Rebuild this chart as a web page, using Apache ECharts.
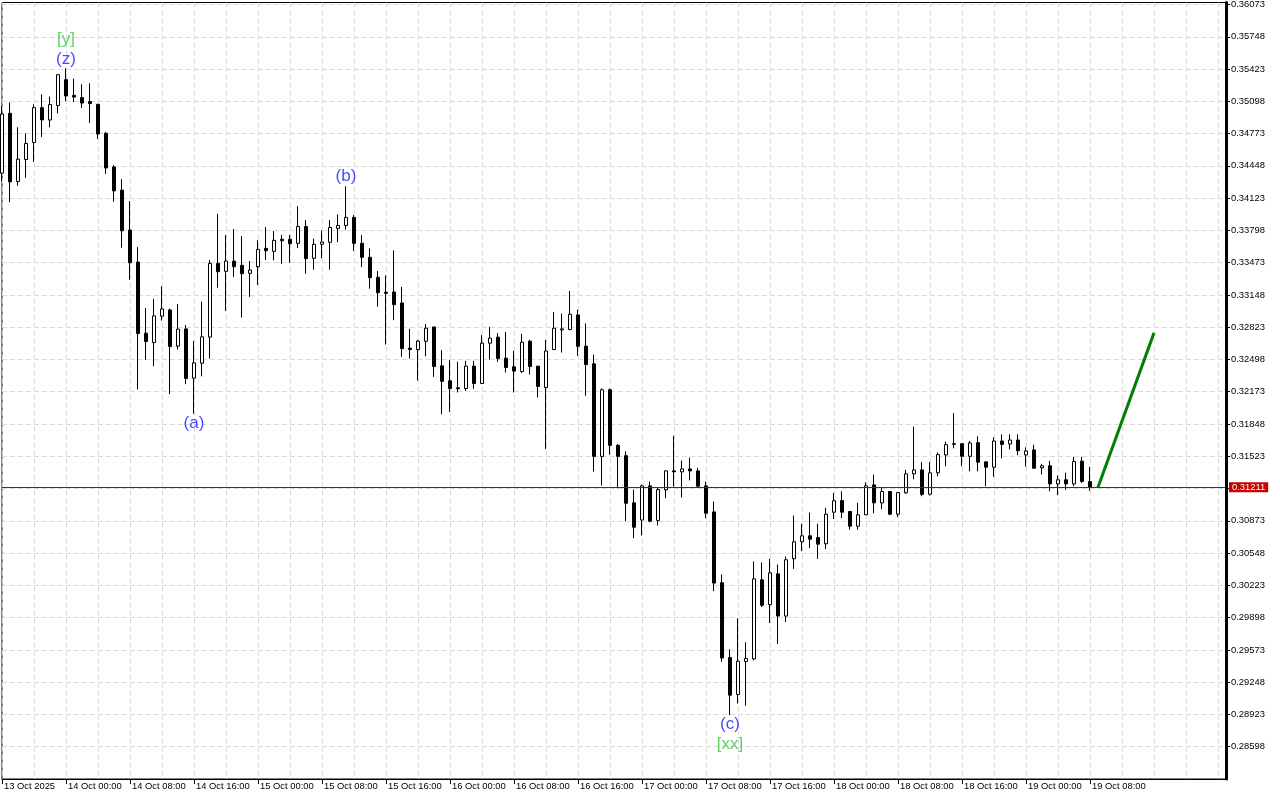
<!DOCTYPE html>
<html>
<head>
<meta charset="utf-8">
<script src="https://cdn.jsdelivr.net/npm/echarts@6/dist/echarts.min.js"></script>
<style>
html,body{margin:0;padding:0;background:#fff;}
#chart{width:1280px;height:800px;}
</style>
</head>
<body>
<div id="chart"></div>
<script>
// ---- DATA (H1 bars, first bar 13 Oct 2025 16:00) ----
const opens = [0.34374,0.34977,0.34291,0.34512,0.34683,0.35034,0.34910,0.35055,0.35316,0.35158,
0.35135,0.35095,0.35068,0.34776,0.34437,0.34203,0.33801,0.33479,0.32763,0.32668,
0.32934,0.32997,0.32632,0.32806,0.32310,0.32461,0.32723,0.33466,0.33386,0.33489,
0.33446,0.33366,0.33432,0.33617,0.33587,0.33708,0.33708,0.33668,0.33838,0.33517,
0.33658,0.33678,0.33818,0.33848,0.33929,0.33668,0.33527,0.33326,0.33175,0.33178,
0.33067,0.32612,0.32598,0.32681,0.32826,0.32434,0.32283,0.32213,0.32206,0.32431,
0.32256,0.32662,0.32723,0.32511,0.32424,0.32377,0.32682,0.32431,0.32216,0.32598,
0.32796,0.32799,0.32947,0.32632,0.32454,0.31522,0.32193,0.31633,0.31529,0.31054,
0.30881,0.31225,0.30876,0.31185,0.31376,0.31366,0.31396,0.31376,0.31225,0.30963,
0.30250,0.29496,0.29124,0.29456,0.29483,0.30279,0.30029,0.30339,0.29914,0.30491,
0.30662,0.30722,0.30705,0.30642,0.30960,0.31077,0.30967,0.30819,0.30934,0.31235,
0.31054,0.31168,0.30940,0.31155,0.31346,0.31386,0.31141,0.31356,0.31537,0.31643,
0.31650,0.31523,0.31660,0.31467,0.31413,0.31677,0.31647,0.31687,0.31537,0.31587,
0.31407,0.31427,0.31245,0.31286,0.31245,0.31474,0.31269];
const highs = [0.35048,0.35088,0.34836,0.34776,0.35068,0.35168,0.35145,0.35369,0.35429,0.35326,
0.35269,0.35279,0.35068,0.34789,0.34454,0.34314,0.34093,0.33630,0.33017,0.33108,
0.33235,0.33010,0.33057,0.32846,0.32685,0.33080,0.33499,0.33965,0.33751,0.33811,
0.33741,0.33489,0.33700,0.33831,0.33791,0.33754,0.33754,0.34042,0.33901,0.33714,
0.33798,0.33901,0.33959,0.34243,0.33952,0.33751,0.33617,0.33389,0.33345,0.33597,
0.33229,0.32806,0.32696,0.32856,0.32826,0.32592,0.32494,0.32474,0.32484,0.32484,
0.32743,0.32826,0.32763,0.32776,0.32585,0.32756,0.32696,0.32434,0.32695,0.32977,
0.32960,0.33188,0.33000,0.32861,0.32546,0.32206,0.32206,0.31647,0.31573,0.31188,
0.31238,0.31268,0.31211,0.31379,0.31730,0.31480,0.31510,0.31406,0.31268,0.31067,
0.30333,0.29579,0.29891,0.29650,0.30464,0.30454,0.30490,0.30433,0.30514,0.30926,
0.30843,0.30956,0.30843,0.31004,0.31155,0.31170,0.30967,0.31054,0.31261,0.31338,
0.31205,0.31168,0.31158,0.31386,0.31821,0.31464,0.31464,0.31563,0.31670,0.31958,
0.31650,0.31677,0.31724,0.31467,0.31713,0.31744,0.31744,0.31744,0.31613,0.31640,
0.31447,0.31477,0.31330,0.31358,0.31517,0.31517,0.31416];
const lows = [0.34294,0.34083,0.34247,0.34327,0.34488,0.34739,0.34836,0.34977,0.35098,0.35091,
0.35030,0.34880,0.34719,0.34367,0.34086,0.33623,0.33301,0.32196,0.32494,0.32431,
0.32890,0.32150,0.32598,0.32250,0.31952,0.32328,0.32507,0.33221,0.32987,0.33329,
0.32920,0.33128,0.33248,0.33500,0.33497,0.33462,0.33472,0.33621,0.33362,0.33402,
0.33516,0.33402,0.33681,0.33805,0.33591,0.33429,0.33211,0.33030,0.32648,0.32894,
0.32525,0.32507,0.32286,0.32531,0.32323,0.31947,0.31972,0.32166,0.32180,0.32203,
0.32250,0.32497,0.32474,0.32367,0.32166,0.32361,0.32347,0.32115,0.31597,0.32592,
0.32568,0.32793,0.32535,0.32133,0.31369,0.31228,0.31540,0.31200,0.30869,0.30699,
0.30726,0.30859,0.30826,0.31101,0.31218,0.31108,0.31280,0.31211,0.30900,0.30165,
0.29452,0.28916,0.29034,0.29010,0.29469,0.30005,0.29844,0.29632,0.29854,0.30389,
0.30568,0.30598,0.30490,0.30588,0.30891,0.30900,0.30783,0.30783,0.30934,0.30950,
0.30991,0.30930,0.30910,0.31145,0.31292,0.31121,0.31128,0.31322,0.31423,0.31603,
0.31423,0.31372,0.31372,0.31222,0.31317,0.31503,0.31593,0.31533,0.31420,0.31403,
0.31340,0.31171,0.31131,0.31185,0.31222,0.31255,0.31175];
const closes = [0.34970,0.34287,0.34515,0.34673,0.35034,0.34910,0.35065,0.35366,0.35151,0.35141,
0.35081,0.35075,0.34769,0.34427,0.34196,0.33794,0.33472,0.32759,0.32678,0.32937,
0.33007,0.32628,0.32803,0.32306,0.32464,0.32726,0.33466,0.33382,0.33489,0.33432,
0.33362,0.33399,0.33607,0.33593,0.33698,0.33694,0.33664,0.33838,0.33513,0.33658,
0.33681,0.33828,0.33848,0.33929,0.33668,0.33527,0.33322,0.33171,0.33165,0.33050,
0.32608,0.32598,0.32683,0.32813,0.32427,0.32278,0.32206,0.32203,0.32431,0.32256,
0.32662,0.32713,0.32507,0.32417,0.32381,0.32672,0.32427,0.32226,0.32584,0.32813,
0.32806,0.32954,0.32630,0.32447,0.31522,0.32193,0.31633,0.31522,0.31050,0.30809,
0.31225,0.30869,0.31188,0.31376,0.31366,0.31396,0.31376,0.31221,0.30950,0.30246,
0.29492,0.29117,0.29459,0.29486,0.30289,0.30022,0.30349,0.29914,0.30481,0.30662,
0.30722,0.30688,0.30638,0.30940,0.31075,0.30960,0.30819,0.30934,0.31225,0.31054,
0.31168,0.30940,0.31158,0.31346,0.31386,0.31138,0.31356,0.31540,0.31640,0.31650,
0.31523,0.31657,0.31463,0.31413,0.31677,0.31643,0.31687,0.31580,0.31577,0.31403,
0.31427,0.31245,0.31286,0.31245,0.31470,0.31269,0.31211];

// x tick labels, one every 8 bars (8 hours)
const xTickLabels = ['13 Oct 2025','14 Oct 00:00','14 Oct 08:00','14 Oct 16:00','15 Oct 00:00',
'15 Oct 08:00','15 Oct 16:00','16 Oct 00:00','16 Oct 08:00','16 Oct 16:00','17 Oct 00:00',
'17 Oct 08:00','17 Oct 16:00','18 Oct 00:00','18 Oct 08:00','18 Oct 16:00','19 Oct 00:00','19 Oct 08:00'];
// y tick labels
const yTickValues = [0.28598,0.28923,0.29248,0.29573,0.29898,0.30223,0.30548,0.30873,0.31198,
0.31523,0.31848,0.32173,0.32498,0.32823,0.33148,0.33473,0.33798,0.34123,0.34448,0.34773,
0.35098,0.35423,0.35748,0.36073];
const yLabelValues = yTickValues.filter(v => v !== 0.31198); // hidden behind price tag
const yMin = 0.28273, yMax = 0.36093;

// projected wave (bar index, price)
const projectionBars = [137, 144];
const projectionPrices = [0.31211, 0.32766];

// wave labels
const waveText = ['[y]','(z)','(a)','(b)','(c)','[xx]'];
const waveBar  = [8, 8, 24, 43, 91, 91];
const waveAt   = ['high','high','low','high','low','low'];

// empty slots to the right of the last bar
const slotCount = 154;

// ---- CHART ----
const categories = [];
const startTime = Date.UTC(2025, 9, 13, 16, 0);
for (let i = 0; i < slotCount; i++) {
  const d = new Date(startTime + i * 3600000);
  categories.push(d.toISOString().slice(0, 16));
}
const candleData = opens.map((o, i) => [o, closes[i], lows[i], highs[i]]);
const lastClose = closes[closes.length - 1];

const FONT = 'Liberation Sans';
const AX_FS = 9.4;
const BLUE = '#1a1aff', GREEN = '#36c836';

function waveItem(k) {
  const b = waveBar[k];
  const above = waveAt[k] === 'high';
  const outer = waveText[k].startsWith('[');
  return {
    value: [b, above ? highs[b] : lows[b]],
    name: waveText[k],
    label: {
      show: true,
      formatter: waveText[k],
      position: above ? 'top' : 'bottom',
      distance: outer ? 21 : 1,
      color: outer ? GREEN : BLUE,
      fontFamily: FONT,
      fontSize: 17
    }
  };
}

const chart = echarts.init(document.getElementById('chart'), null, {renderer: 'canvas'});
chart.setOption({
  animation: false,
  backgroundColor: '#ffffff',
  grid: {left: 2, right: 54, top: 1, bottom: 21, show: true, borderColor: '#000', borderWidth: 1, backgroundColor: 'transparent'},
  xAxis: {
    type: 'category',
    data: categories,
    boundaryGap: false,
    axisLine: {show: true, lineStyle: {color: '#000', width: 1}},
    axisTick: {show: true, length: 5, lineStyle: {color: '#000'},
      interval: (idx) => idx % 8 === 0 && idx / 8 < xTickLabels.length},
    axisLabel: {
      show: true,
      interval: (idx) => idx % 8 === 0 && idx / 8 < xTickLabels.length,
      formatter: (v, idx) => xTickLabels[idx / 8] || '',
      align: 'left', padding: [0, 0, 0, 2], margin: 3,
      color: '#000', fontFamily: FONT, fontSize: AX_FS
    },
    splitLine: {show: true, interval: (idx) => idx % 4 === 0,
      lineStyle: {color: '#dadada', type: [5, 3], width: 1}}
  },
  yAxis: {
    type: 'value',
    position: 'right',
    min: yMin, max: yMax,
    axisLine: {show: true, lineStyle: {color: '#000', width: 3}},
    axisTick: {show: true, length: 4, customValues: yTickValues, lineStyle: {color: '#000'}},
    axisLabel: {show: true, customValues: yLabelValues, margin: 5,
      formatter: (v) => v.toFixed(5), color: '#000', fontFamily: FONT, fontSize: AX_FS},
    splitLine: {show: true, lineStyle: {color: '#dadada', type: [5, 3], width: 1}}
  },
  series: [
    {
      type: 'candlestick',
      data: candleData,
      barWidth: 4,
      clip: false,
      itemStyle: {color: '#ffffff', color0: '#000000', borderColor: '#000000', borderColor0: '#000000', borderWidth: 1},
      emphasis: {disabled: true},
      markLine: {
        silent: true,
        precision: 5,
        symbol: ['none', 'none'],
        data: [{yAxis: lastClose}],
        lineStyle: {color: '#b40000', width: 1, type: 'solid'},
        label: {show: true, position: 'end', distance: 3, formatter: () => lastClose.toFixed(5),
          color: '#fff', backgroundColor: '#c80000', padding: [1, 3, 0, 3],
          fontFamily: FONT, fontSize: AX_FS}
      },
      z: 3
    },
    {
      type: 'line',
      data: projectionBars.map((b, i) => [b, projectionPrices[i]]),
      symbol: 'none',
      lineStyle: {color: '#008000', width: 3},
      emphasis: {disabled: true},
      z: 4
    },
    {
      type: 'scatter',
      data: waveText.map((t, k) => waveItem(k)),
      symbolSize: 0,
      silent: true,
      z: 5
    }
  ]
});
</script>
</body>
</html>
